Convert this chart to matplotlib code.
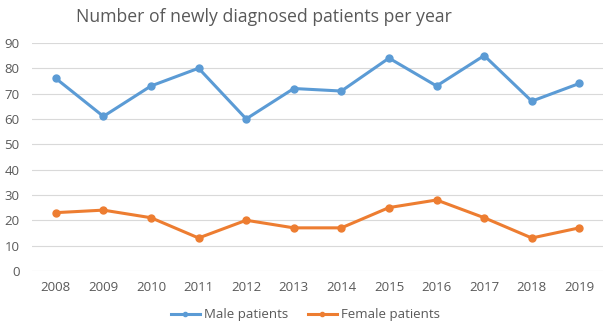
import matplotlib.pyplot as plt

plt.rcParams['font.family'] = ['Open Sans', 'DejaVu Sans']

years = ['2008', '2009', '2010', '2011', '2012', '2013', '2014', '2015', '2016', '2017', '2018', '2019']
male = [76, 61, 73, 80, 60, 72, 71, 84, 73, 85, 67, 74]
female = [23, 24, 21, 13, 20, 17, 17, 25, 28, 21, 13, 17]

gray = '#595959'
fig = plt.figure(figsize=(6.07, 3.30), dpi=100)
ax = fig.add_axes([0.0527, 0.179, 0.941, 0.691])

x = range(len(years))
ax.plot(x, male, color='#5B9BD5', lw=2.2, marker='o', ms=5, label='Male patients')
ax.plot(x, female, color='#ED7D31', lw=2.2, marker='o', ms=5, label='Female patients')

ax.set_xlim(-0.5, len(years) - 0.5)
ax.set_ylim(0, 90)
ax.set_yticks(range(0, 91, 10))
ax.set_xticks(list(x))
ax.set_xticklabels(years)
ax.grid(axis='y', color='#D9D9D9', lw=0.8)
ax.set_axisbelow(True)
for s in ax.spines.values():
    s.set_visible(False)
ax.tick_params(length=0, labelsize=9.5, colors=gray)
ax.tick_params(axis='x', pad=7)
ax.tick_params(axis='y', pad=9)

fig.suptitle('Number of newly diagnosed patients per year', x=0.435, y=0.975,
             fontsize=12.7, color=gray)
fig.legend(loc='lower center', bbox_to_anchor=(0.503, -0.01), ncol=2, frameon=False,
           fontsize=9.5, labelcolor=gray, handlelength=2.2, handletextpad=0.3,
           columnspacing=1.5, markerscale=0.6)

fig.savefig('out.png', dpi=100)
